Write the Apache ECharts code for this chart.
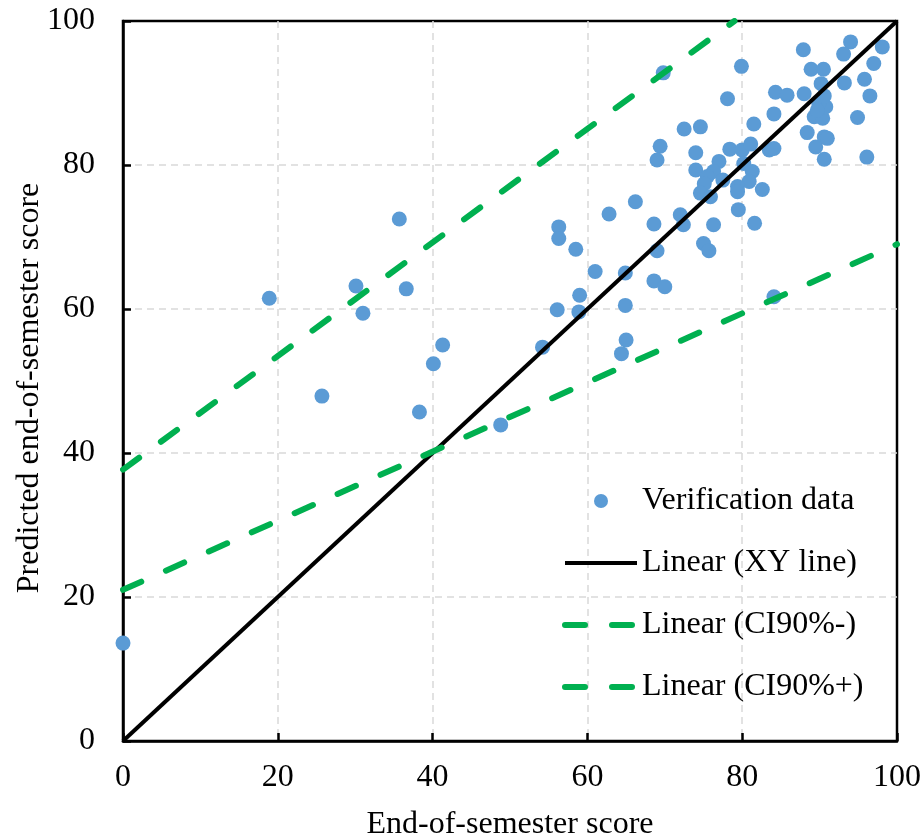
<!DOCTYPE html>
<html>
<head>
<meta charset="utf-8">
<script src="https://cdn.jsdelivr.net/npm/echarts@6/dist/echarts.min.js"></script>
<style>html,body{margin:0;padding:0;background:#fff}#c{width:923px;height:839px}</style>
</head>
<body>
<div id="c"></div>
<script>
// Verification data: end-of-semester score (x) vs predicted score (y)
const obsX = [0,18.9,25.7,30.1,31.0,35.7,36.6,38.3,40.1,41.3,48.8,54.2,56.1,58.9,59.0,61.0,64.9,64.9,65.0,64.4,68.6,70.0,69.0,58.5,56.3,56.3,62.8,66.2,68.6,72.0,72.4,76.3,75.0,75.7,79.5,81.6,84.1,69.8,79.9,78.1,72.5,74.6,81.5,84.1,84.3,85.8,87.9,88.0,88.9,90.5,90.2,94.0,93.1,98.1,97.0,95.8,93.2,96.5,94.9,96.1,90.6,89.5,88.4,90.6,91.0,89.3,90.4,90.8,89.9,90.6,89.7,69.4,69.0,74.0,74.0,78.4,80.0,81.1,83.5,84.1,77.0,76.3,75.5,75.1,74.6,75.9,77.5,81.3,80.9,79.4,79.4,82.6,80.2];
const predY = [13.6,61.5,47.9,63.2,59.4,72.5,62.8,45.7,52.4,55.0,43.9,54.7,59.9,59.6,61.9,65.2,65.0,60.5,55.7,53.8,63.9,63.1,68.1,68.3,71.4,69.8,73.2,74.9,71.8,73.1,71.7,71.7,69.1,68.1,73.8,71.9,61.7,92.8,93.7,89.2,85.0,85.3,85.7,87.1,90.1,89.7,96.0,89.9,93.3,93.3,91.3,97.1,95.4,96.4,94.1,91.9,91.4,89.6,86.6,81.1,80.8,82.5,84.5,83.9,83.7,86.7,86.5,88.1,88.5,89.6,87.6,82.6,80.7,81.7,79.3,82.2,82.1,82.9,82.1,82.3,80.5,79.1,78.4,77.4,76.1,75.6,77.9,79.1,77.7,77.0,76.3,76.6,80.2];
// Reference lines (end points)
const xyLine = [[0,0],[100,100]];
const ciMinus = [[0,21.0],[100,69.0]];
const ciPlus = [[0,37.7],[79,100]];
const xTicks = [0,20,40,60,80,100];
const yTicks = [0,20,40,60,80,100];

const FONT = '"Liberation Serif","Times New Roman",serif';
const FS = 32;
const points = obsX.map((x,i)=>[x,predY[i]]);
const chart = echarts.init(document.getElementById('c'), null, {renderer:'canvas'});
const gridLine = {show:true, showMinLine:false, showMaxLine:false, lineStyle:{color:'#d9d9d9', width:1.5, type:[7,5]}};
chart.setOption({
  animation:false,
  backgroundColor:'#fff',
  grid:{left:123,right:26,top:21,bottom:98,show:true,borderColor:'#000',borderWidth:2.5,
    containLabel:false,outerBoundsMode:'none'},
  xAxis:{type:'value',min:xTicks[0],max:xTicks[xTicks.length-1],interval:20,
    name:'End-of-semester score',nameLocation:'middle',nameGap:68,nameMoveOverlap:false,
    nameTextStyle:{fontFamily:FONT,fontSize:FS,color:'#000'},
    axisLine:{show:true,lineStyle:{color:'#000',width:2.5}},
    axisTick:{show:true,inside:true,length:8,lineStyle:{color:'#000',width:2.5}},
    axisLabel:{fontFamily:FONT,fontSize:FS,color:'#000',margin:21},
    splitLine:gridLine},
  yAxis:{type:'value',min:yTicks[0],max:yTicks[yTicks.length-1],interval:20,
    name:'Predicted end-of-semester score',nameLocation:'middle',nameGap:77,nameMoveOverlap:false,
    nameTextStyle:{fontFamily:FONT,fontSize:FS,color:'#000',padding:[0,14,0,0]},
    axisLine:{show:true,lineStyle:{color:'#000',width:2.5}},
    axisTick:{show:true,inside:true,length:8,lineStyle:{color:'#000',width:2.5}},
    axisLabel:{fontFamily:FONT,fontSize:FS,color:'#000',margin:28},
    splitLine:gridLine},
  legend:{orient:'vertical',left:557,top:480,itemWidth:72,itemHeight:14,itemGap:30,padding:5,
    textStyle:{fontFamily:FONT,fontSize:FS,color:'#000'},
    lineStyle:{width:'inherit'},
    data:[
      {name:'Verification data'},
      {name:'Linear (XY line)',itemStyle:{opacity:0}},
      {name:'Linear (CI90%-)',itemStyle:{opacity:0}},
      {name:'Linear (CI90%+)',itemStyle:{opacity:0}}
    ]},
  series:[
    {name:'Verification data',type:'scatter',data:points,symbol:'circle',symbolSize:15,
      itemStyle:{color:'#5B9BD5',opacity:1}},
    {name:'Linear (XY line)',type:'line',data:xyLine,symbol:'none',
      lineStyle:{color:'#000',width:4},itemStyle:{color:'#000'}},
    {name:'Linear (CI90%-)',type:'line',data:ciMinus,symbol:'none',
      lineStyle:{color:'#00B050',width:6,type:[20,27],cap:'round'},itemStyle:{color:'#00B050'}},
    {name:'Linear (CI90%+)',type:'line',data:ciPlus,symbol:'none',
      lineStyle:{color:'#00B050',width:6,type:[20,27],cap:'round'},itemStyle:{color:'#00B050'}}
  ]
});
</script>
</body>
</html>
